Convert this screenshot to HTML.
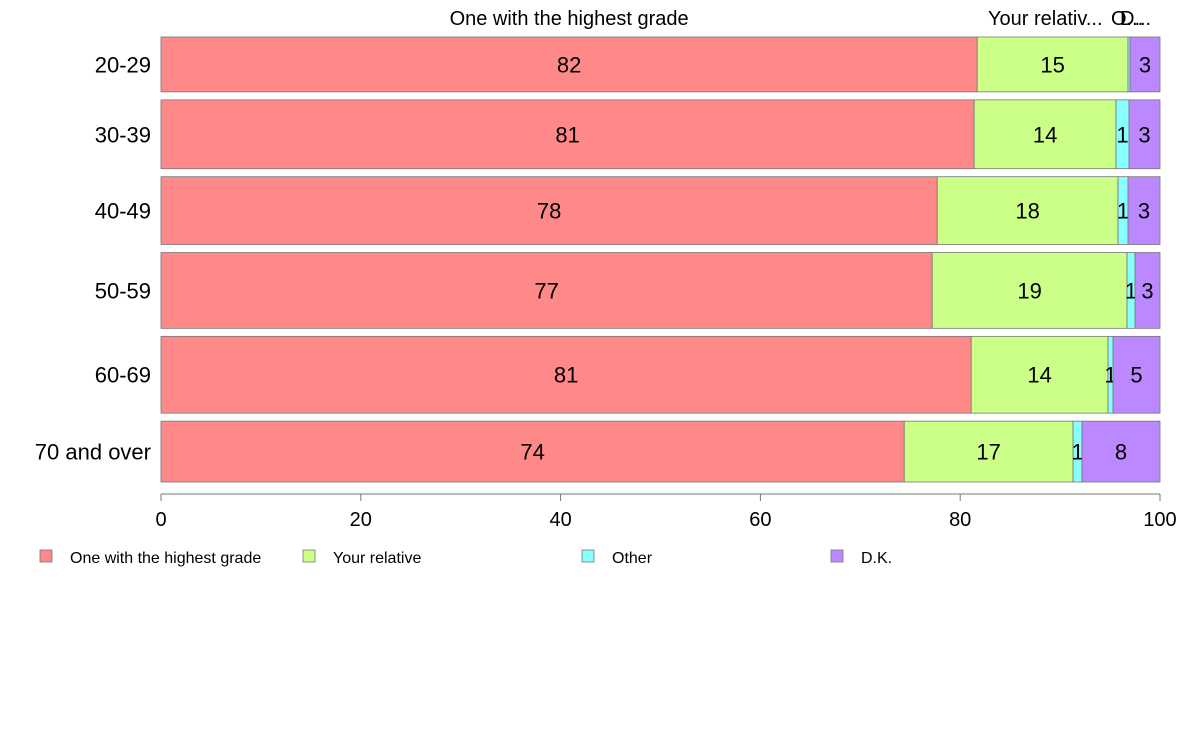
<!DOCTYPE html>
<html><head><meta charset="utf-8"><style>
body{margin:0;background:#fff;font-family:"Liberation Sans",Arial,sans-serif;}
svg{display:block}
</style></head><body>
<svg id="chart" width="1188" height="736" xmlns="http://www.w3.org/2000/svg"></svg>
<script>
const categories=["20-29","30-39","40-49","50-59","60-69","70 and over"];
const seriesNames=["One with the highest grade","Your relative","Other","D.K."];
const highest=[81.7,81.4,77.7,77.2,81.1,74.4];
const relative=[15.1,14.2,18.1,19.5,13.7,16.9];
const other=[0.2,1.3,1.0,0.8,0.5,0.9];
const dk=[3.0,3.1,3.2,2.5,4.7,7.8];
const labelsHighest=["82","81","78","77","81","74"];
const labelsRelative=["15","14","18","19","14","17"];
const labelsOther=["","1","1","1","1","1"];
const labelsDk=["3","3","3","3","5","8"];
const rowWeights=[55,69,68,76,77,61];
const ticks=[0,20,40,60,80,100];
const colors=["#ff8888","#ccff88","#88ffff","#bb88ff"];

const NS="http://www.w3.org/2000/svg";
const svg=document.getElementById("chart");
const X0=161,X1=1160,Y0=37,Y1=482,GAP=8;
const x=v=>X0+(X1-X0)*v/100;
const totalW=rowWeights.reduce((a,b)=>a+b,0);
const avail=(Y1-Y0)-GAP*(categories.length-1);
function el(tag,attrs,text){const e=document.createElementNS(NS,tag);for(const k in attrs)e.setAttribute(k,attrs[k]);if(text!==undefined)e.textContent=text;svg.appendChild(e);return e;}
const series=[highest,relative,other,dk];
const labels=[labelsHighest,labelsRelative,labelsOther,labelsDk];
let y=Y0;
categories.forEach((c,i)=>{
  const h=avail*rowWeights[i]/totalW;
  let cum=0;
  series.forEach((s,j)=>{
    const r=el("rect",{x:x(cum),y:y,width:x(cum+s[i])-x(cum),height:h,fill:colors[j],stroke:"#777","stroke-width":0.8});
    
    
    if(labels[j][i]){
      const t=el("text",{x:(x(cum)+x(cum+s[i]))/2,y:y+h/2+8,"text-anchor":"middle","font-size":22,fill:"#000"},labels[j][i]);
      
      
    }
    cum+=s[i];
  });
  const cl=el("text",{x:151,y:y+h/2+8,"text-anchor":"end","font-size":22,fill:"#000"},c);
  
  
  y+=h+GAP;
});
// top series labels from first row
const tl1=el("text",{x:(x(0)+x(highest[0]))/2,y:25,"text-anchor":"middle","font-size":20},"One with the highest grade");


const tl2=el("text",{x:988,y:25,"font-size":20},"Your relativ...");


const tl3=el("text",{x:1111,y:25,"font-size":20},"O...");


const tl4=el("text",{x:1120,y:25,"font-size":20},"D...");


// axis
const ax=el("line",{x1:X0,x2:X1,y1:494,y2:494,stroke:"#777"});


ticks.forEach(t=>{
  const l=el("line",{x1:x(t),x2:x(t),y1:494,y2:501,stroke:"#777"});
  
  
  const tx=el("text",{x:x(t),y:526,"text-anchor":"middle","font-size":20},t);
  
  
});
// legend
const lx=[40,303,582,831];
seriesNames.forEach((n,j)=>{
  const r=el("rect",{x:lx[j],y:550,width:12,height:12,fill:colors[j],stroke:"#777","stroke-width":0.8});
  
  
  const t=el("text",{x:lx[j]+30,y:563,"font-size":16},n);
  
  
});
</script>
</body></html>
